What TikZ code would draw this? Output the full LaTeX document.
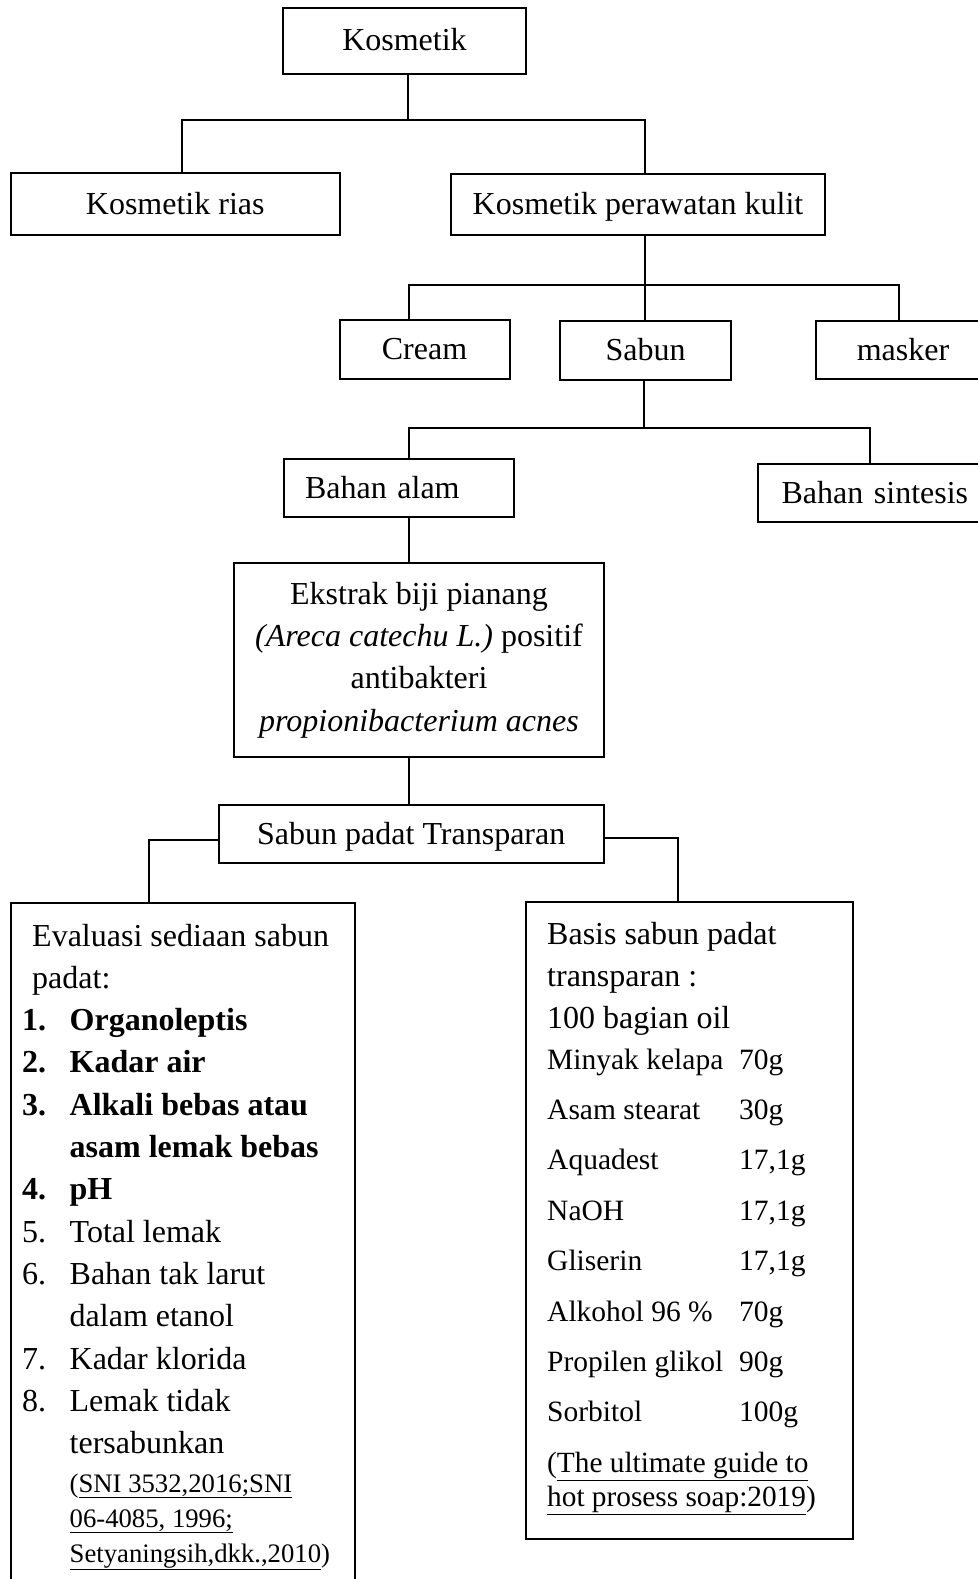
\documentclass[tikz,border=0pt]{standalone}
\usepackage{fontspec}
\setmainfont{Liberation Serif}
\begin{document}
\begin{tikzpicture}[x=1pt,y=-1pt,
  box/.style={draw, line width=2pt, inner sep=0pt, align=center, font=\fontsize{32}{42.3}\selectfont},
  onebox/.style={box, text height=21pt, text depth=1pt},
  conn/.style={line width=2pt},
  txt/.style={inner sep=0pt, anchor=base west}]
\useasboundingbox (0,0) rectangle (977,1579);

% boxes
\node[onebox, minimum width=243pt, minimum height=65.5pt] (kos) at (404.5,41) {Kosmetik};
\node[onebox, minimum width=328.5pt, minimum height=62pt] (rias) at (175.25,204) {Kosmetik rias};
\node[onebox, minimum width=374pt, minimum height=61pt] (kpk) at (638,204) {Kosmetik perawatan kulit};
\node[onebox, minimum width=170pt, minimum height=59pt] (cream) at (424.5,349.5) {Cream};
\node[onebox, minimum width=171pt, minimum height=59pt] (sabun) at (645.5,350.5) {Sabun};
\node[onebox, minimum width=174pt, minimum height=58pt] (masker) at (903,350) {masker};
\node[onebox, minimum width=230pt, minimum height=58pt, text width=188pt, align=left, inner xsep=21pt] (alam) at (399,488) {Bahan alam};
\node[onebox, minimum width=232pt, minimum height=58pt, text width=200pt, align=left, inner xsep=23.5pt] (sint) at (881.5,493) {Bahan sintesis};
\node[box, minimum width=370pt, minimum height=194pt] (ekstrak) at (419,660) {Ekstrak biji pianang\\\textit{(Areca catechu L.)} positif\\antibakteri\\\textit{propionibacterium acnes}};
\node[onebox, minimum width=385.5pt, minimum height=58pt] (spt) at (411.25,834) {Sabun padat Transparan};
\node[box, minimum width=343.5pt, minimum height=690pt] (eval) at (182.75,1248) {};
\node[box, minimum width=327pt, minimum height=637pt] (basis) at (689.5,1220.5) {};

% connectors
\coordinate (j1) at (408,120);
\coordinate (jl1) at (182,120);
\coordinate (jr1) at (645,120);
\draw[conn] (kos.south -| j1) -- (j1);
\draw[conn] (jl1 |- rias.north) -- (jl1) -- (jr1) -- (jr1 |- kpk.north);

\coordinate (j2) at (645,285);
\coordinate (jl2) at (409,285);
\coordinate (jr2) at (899,285);
\draw[conn] (j2 |- kpk.south) -- (j2);
\draw[conn] (jl2 |- cream.north) -- (jl2) -- (jr2) -- (jr2 |- masker.north);
\draw[conn] (j2) -- (j2 |- sabun.north);

\coordinate (j3) at (644,428);
\coordinate (jl3) at (409,428);
\coordinate (jr3) at (870,428);
\draw[conn] (j3 |- sabun.south) -- (j3);
\draw[conn] (jl3 |- alam.north) -- (jl3) -- (jr3) -- (jr3 |- sint.north);
\draw[conn] (jl3 |- alam.south) -- (jl3 |- ekstrak.north);
\draw[conn] (jl3 |- ekstrak.south) -- (jl3 |- spt.north);

\coordinate (cl) at (149,840);
\coordinate (cr) at (678,838);
\draw[conn] (spt.west |- cl) -- (cl) -- (cl |- eval.north);
\draw[conn] (spt.east |- cr) -- (cr) -- (cr |- basis.north);

% Evaluasi text
\node[txt, font=\fontsize{32}{42.3}\selectfont] (evhead) at (32,946)
  {\begin{tabular}[t]{@{}l@{}}Evaluasi sediaan sabun\\ padat:\end{tabular}};
\node[txt, font=\fontsize{32}{42.3}\selectfont] (evlist) at (22,1030.6)
  {\begin{tabular}[t]{@{}p{47.5pt}@{}l@{}}
  \textbf{1.} & \textbf{Organoleptis}\\
  \textbf{2.} & \textbf{Kadar air}\\
  \textbf{3.} & \textbf{Alkali bebas atau}\\
   & \textbf{asam lemak bebas}\\
  \textbf{4.} & \textbf{pH}\\
  5. & Total lemak\\
  6. & Bahan tak larut\\
   & dalam etanol\\
  7. & Kadar klorida\\
  8. & Lemak tidak\\
   & tersabunkan
  \end{tabular}};
\node[txt, font=\fontsize{26.7}{35}\selectfont] (evref) at (69.5,1492)
  {\begin{tabular}[t]{@{}l@{}}(\underline{SNI 3532,2016;SNI}\\ \underline{06-4085, 1996;}\\ \underline{Setyaningsih,dkk.,2010})\end{tabular}};

% Basis text
\node[txt, font=\fontsize{32}{42.3}\selectfont] (bahead) at (547,944)
  {\begin{tabular}[t]{@{}l@{}}Basis sabun padat\\ transparan :\\ 100 bagian oil\end{tabular}};
\node[txt, font=\fontsize{29.5}{50.4}\selectfont] (balist) at (547,1069)
  {\begin{tabular}[t]{@{}p{192pt}@{}l@{}}
  Minyak kelapa & 70g\\
  Asam stearat & 30g\\
  Aquadest & 17,1g\\
  NaOH & 17,1g\\
  Gliserin & 17,1g\\
  Alkohol 96 \% & 70g\\
  Propilen glikol & 90g\\
  Sorbitol & 100g
  \end{tabular}};
\node[txt, font=\fontsize{29.3}{34.5}\selectfont] (baref) at (547,1472)
  {\begin{tabular}[t]{@{}l@{}}(\underline{The ultimate guide to}\\ \underline{hot prosess soap:2019})\end{tabular}};
\end{tikzpicture}
\end{document}
